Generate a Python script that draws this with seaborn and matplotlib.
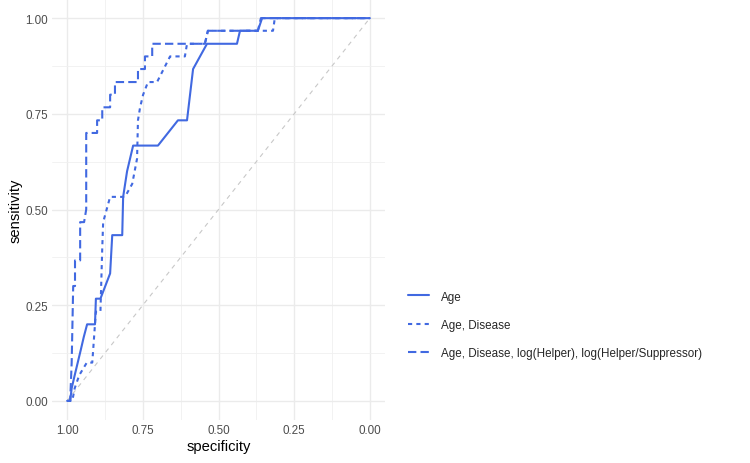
import pandas as pd
import matplotlib.pyplot as plt
import seaborn as sns

# ROC curves (specificity, sensitivity)
age_spec = [1.0, 0.99, 0.985, 0.975, 0.965, 0.955, 0.945, 0.934, 0.908, 0.905, 0.89, 0.858,
            0.851, 0.818, 0.815, 0.802, 0.782, 0.70, 0.634, 0.604, 0.594, 0.584, 0.561,
            0.538, 0.439, 0.429, 0.37, 0.356, 0.0]
age_sens = [0.0, 0.0, 0.033, 0.067, 0.1, 0.133, 0.167, 0.2, 0.2, 0.267, 0.267, 0.333,
            0.433, 0.433, 0.533, 0.6, 0.667, 0.667, 0.733, 0.733, 0.8, 0.867, 0.9,
            0.933, 0.933, 0.967, 0.967, 1.0, 1.0]

dis_spec = [1.0, 0.983, 0.975, 0.96, 0.935, 0.917, 0.908, 0.905, 0.89, 0.884, 0.881, 0.858,
            0.809, 0.785, 0.769, 0.766, 0.759, 0.749, 0.733, 0.703, 0.66, 0.611, 0.604,
            0.545, 0.535, 0.32, 0.314, 0.0]
dis_sens = [0.0, 0.0, 0.033, 0.067, 0.1, 0.1, 0.2, 0.233, 0.233, 0.4, 0.467, 0.533,
            0.533, 0.567, 0.633, 0.733, 0.767, 0.8, 0.833, 0.833, 0.9, 0.9, 0.933,
            0.933, 0.967, 0.967, 1.0, 1.0]

full_spec = [1.0, 0.99, 0.985, 0.98, 0.974, 0.974, 0.957, 0.957, 0.944, 0.937, 0.937, 0.901,
             0.901, 0.884, 0.884, 0.858, 0.858, 0.842, 0.842, 0.766, 0.766, 0.743, 0.743,
             0.719, 0.719, 0.545, 0.535, 0.37, 0.36, 0.0]
full_sens = [0.0, 0.0, 0.1, 0.3, 0.3, 0.367, 0.367, 0.467, 0.467, 0.5, 0.7, 0.7,
             0.733, 0.733, 0.767, 0.767, 0.8, 0.8, 0.833, 0.833, 0.867, 0.867, 0.9,
             0.9, 0.933, 0.933, 0.967, 0.967, 1.0, 1.0]

labels = ["Age", "Age, Disease", "Age, Disease, log(Helper), log(Helper/Suppressor)"]

df = pd.concat([
    pd.DataFrame({"specificity": age_spec, "sensitivity": age_sens, "name": labels[0]}),
    pd.DataFrame({"specificity": dis_spec, "sensitivity": dis_sens, "name": labels[1]}),
    pd.DataFrame({"specificity": full_spec, "sensitivity": full_sens, "name": labels[2]}),
], ignore_index=True)

sns.set_theme(style="whitegrid")
plt.rcParams["font.family"] = ["Liberation Sans", "DejaVu Sans"]

fig = plt.figure(figsize=(7.5, 4.64), dpi=100)
ax = fig.add_axes([52 / 750, 1 - 421 / 464, 333 / 750, 421 / 464])

# reference diagonal
ax.plot([1, 0], [0, 1], color="#C8C8C8", lw=0.8, dashes=(4, 4), zorder=1)

blue = "#4169E1"
sns.lineplot(data=df, x="specificity", y="sensitivity", hue="name", style="name",
             sort=False, estimator=None,
             palette=[blue] * 3, hue_order=labels, style_order=labels,
             dashes={labels[0]: "", labels[1]: (2, 2), labels[2]: (4, 2)},
             linewidth=1.5, ax=ax, zorder=3)

ax.set_xlim(1.05, -0.05)
ax.set_ylim(-0.05, 1.05)
ax.set_xticks([1.0, 0.75, 0.5, 0.25, 0.0])
ax.set_yticks([0.0, 0.25, 0.5, 0.75, 1.0])
ax.set_xticklabels(["1.00", "0.75", "0.50", "0.25", "0.00"])
ax.set_yticklabels(["0.00", "0.25", "0.50", "0.75", "1.00"])
ax.set_xticks([0.875, 0.625, 0.375, 0.125], minor=True)
ax.set_yticks([0.125, 0.375, 0.625, 0.875], minor=True)

ax.set_facecolor("white")
for s in ax.spines.values():
    s.set_visible(False)
ax.grid(which="major", color="#EBEBEB", lw=1.0)
ax.grid(which="minor", color="#F0F0F0", lw=0.6)
ax.tick_params(which="major", length=0, labelsize=8.4, labelcolor="#4D4D4D", pad=3)
ax.tick_params(which="minor", length=0)
# hide leftover minor tick marks
for t in ax.xaxis.get_minor_ticks() + ax.yaxis.get_minor_ticks():
    t.tick1line.set_visible(False)
    t.tick2line.set_visible(False)
ax.set_xlabel("specificity", fontsize=10.6, color="black", labelpad=2)
ax.set_ylabel("sensitivity", fontsize=10.6, color="black", labelpad=2)

sns.move_legend(ax, "center left", bbox_to_anchor=(1.07, 0.226), title=None,
                frameon=False, fontsize=8.4, handlelength=1.8, handletextpad=1.0,
                labelspacing=1.4, borderaxespad=0, borderpad=0)

fig.savefig("out.png", dpi=100)
